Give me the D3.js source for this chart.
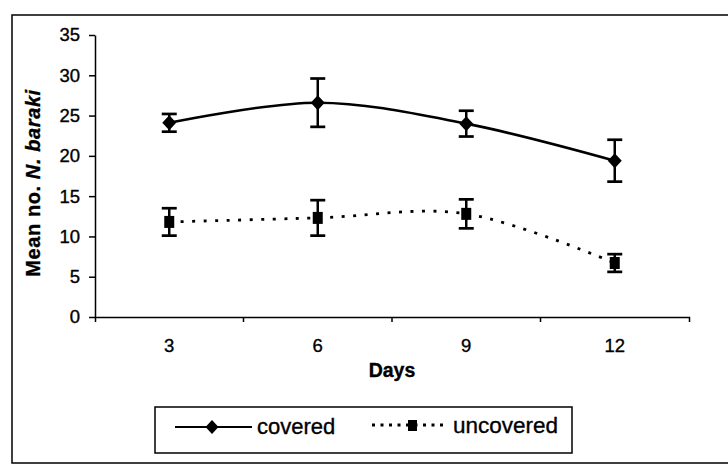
<!DOCTYPE html>
<html>
<head>
<meta charset="utf-8">
<script src="https://cdn.jsdelivr.net/npm/d3@7"></script>
<style>
  html, body { margin: 0; padding: 0; background: #fff; }
  svg { display: block; }
  text { font-family: "Liberation Sans", Arial, sans-serif; fill: #000; stroke: #000; stroke-width: 0.35px; }
</style>
</head>
<body>
<svg id="chart" width="728" height="473"></svg>
<script>
// ---- data ----
const days = ["3", "6", "9", "12"];
const coveredMean = [24.1, 26.6, 24.0, 19.4];
const coveredErr  = [1.1, 3.0, 1.6, 2.6];
const uncoveredMean = [11.8, 12.3, 12.8, 6.7];
const uncoveredErr  = [1.7, 2.2, 1.8, 1.1];
const yTicks = [0, 5, 10, 15, 20, 25, 30, 35];
const seriesNames = ["covered", "uncovered"];

// ---- layout ----
const svg = d3.select("#chart");
const ink = "#000";
const plotLeft = 95, plotRight = 689, plotTop = 35, plotBottom = 317;

svg.append("rect").attr("x", 12).attr("y", 15).attr("width", 730).attr("height", 448)
  .attr("fill", "none").attr("stroke", ink).attr("stroke-width", 1.5);

const x = d3.scaleBand().domain(days).range([plotLeft, plotRight]).padding(0);
const cx = d => x(d) + x.bandwidth() / 2;
const y = d3.scaleLinear().domain([0, 35]).range([plotBottom, plotTop]);

// y axis
const yAxis = svg.append("g").attr("transform", `translate(${plotLeft},0)`)
  .call(d3.axisLeft(y).tickValues(yTicks).tickSize(6).tickSizeOuter(0).tickPadding(9));
yAxis.selectAll("path, line").attr("stroke", ink).attr("stroke-width", 1.5);
yAxis.selectAll("text").style("font-size", "18.5px").attr("fill", ink);

// x axis
const xAxis = svg.append("g").attr("transform", `translate(0,${plotBottom})`)
  .call(d3.axisBottom(x).tickSize(0).tickSizeOuter(5).tickPadding(22));
xAxis.selectAll("path").attr("stroke", ink).attr("stroke-width", 1.5);
xAxis.selectAll("text").style("font-size", "18.5px").attr("fill", ink);
xAxis.selectAll("line.boundary").data(days.slice(1)).join("line")
  .attr("class", "boundary")
  .attr("x1", d => x(d)).attr("x2", d => x(d))
  .attr("y1", 0).attr("y2", 5)
  .attr("stroke", ink).attr("stroke-width", 1.5);

// axis titles
svg.append("text").attr("x", 392).attr("y", 377).attr("text-anchor", "middle")
  .style("font-size", "19.5px").style("font-weight", "bold").text("Days");

const yl = svg.append("text").attr("transform", "translate(40,183) rotate(-90)")
  .attr("text-anchor", "middle")
  .style("font-size", "20px").style("font-weight", "bold").style("letter-spacing", "0.6px");
yl.append("tspan").text("Mean no. ");
yl.append("tspan").style("font-style", "italic").text("N. baraki");

// lines
const line = d3.line().x((d, i) => cx(days[i])).y(d => y(d)).curve(d3.curveCardinal.tension(0));
svg.append("path").datum(coveredMean).attr("d", line)
  .attr("fill", "none").attr("stroke", ink).attr("stroke-width", 2.6);
svg.append("path").datum(uncoveredMean).attr("d", line)
  .attr("fill", "none").attr("stroke", ink).attr("stroke-width", 2.8)
  .attr("stroke-dasharray", "3,8.5");

// error bars
function errorBars(means, errs) {
  const g = svg.append("g");
  const data = means.map((m, i) => ({ d: days[i], m, e: errs[i] }));
  g.selectAll("line.v").data(data).join("line").attr("class", "v")
    .attr("x1", d => cx(d.d)).attr("x2", d => cx(d.d))
    .attr("y1", d => y(d.m + d.e)).attr("y2", d => y(d.m - d.e))
    .attr("stroke", ink).attr("stroke-width", 2.5);
  ["+", "-"].forEach(s => {
    const cls = s === "+" ? "ct" : "cb";
    g.selectAll("line." + cls).data(data).join("line")
      .attr("class", cls)
      .attr("x1", d => cx(d.d) - 7.5).attr("x2", d => cx(d.d) + 7.5)
      .attr("y1", d => y(s === "+" ? d.m + d.e : d.m - d.e))
      .attr("y2", d => y(s === "+" ? d.m + d.e : d.m - d.e))
      .attr("stroke", ink).attr("stroke-width", 2.7);
  });
}
errorBars(coveredMean, coveredErr);
errorBars(uncoveredMean, uncoveredErr);

// markers
const diamond = (w, h) => `M0,${-h/2}L${w/2},0L0,${h/2}L${-w/2},0Z`;
svg.selectAll("path.dia").data(coveredMean).join("path").attr("class", "dia")
  .attr("d", diamond(14, 15))
  .attr("transform", (d, i) => `translate(${cx(days[i])},${y(d)})`)
  .attr("fill", ink);
svg.selectAll("rect.sq").data(uncoveredMean).join("rect").attr("class", "sq")
  .attr("x", (d, i) => cx(days[i]) - 5).attr("y", d => y(d) - 6)
  .attr("width", 10).attr("height", 12).attr("fill", ink);

// legend
const lg = svg.append("g");
lg.append("rect").attr("x", 155).attr("y", 407).attr("width", 417).attr("height", 46)
  .attr("fill", "#fff").attr("stroke", ink).attr("stroke-width", 1.5);
const ly = 427;
lg.append("line").attr("x1", 175).attr("x2", 252).attr("y1", ly).attr("y2", ly)
  .attr("stroke", ink).attr("stroke-width", 2);
lg.append("path").attr("d", diamond(13, 14)).attr("transform", `translate(212,${ly})`).attr("fill", ink);
lg.append("text").attr("x", 257).attr("y", ly + 7).style("font-size", "22px").text(seriesNames[0]);
lg.append("line").attr("x1", 372).attr("x2", 447).attr("y1", ly - 2).attr("y2", ly - 2)
  .attr("stroke", ink).attr("stroke-width", 2.8).attr("stroke-dasharray", "3,5.5");
lg.append("rect").attr("x", 408).attr("y", ly - 7).attr("width", 9).attr("height", 11).attr("fill", ink);
lg.append("text").attr("x", 453).attr("y", ly + 6).style("font-size", "22.5px").text(seriesNames[1]);
</script>
</body>
</html>
